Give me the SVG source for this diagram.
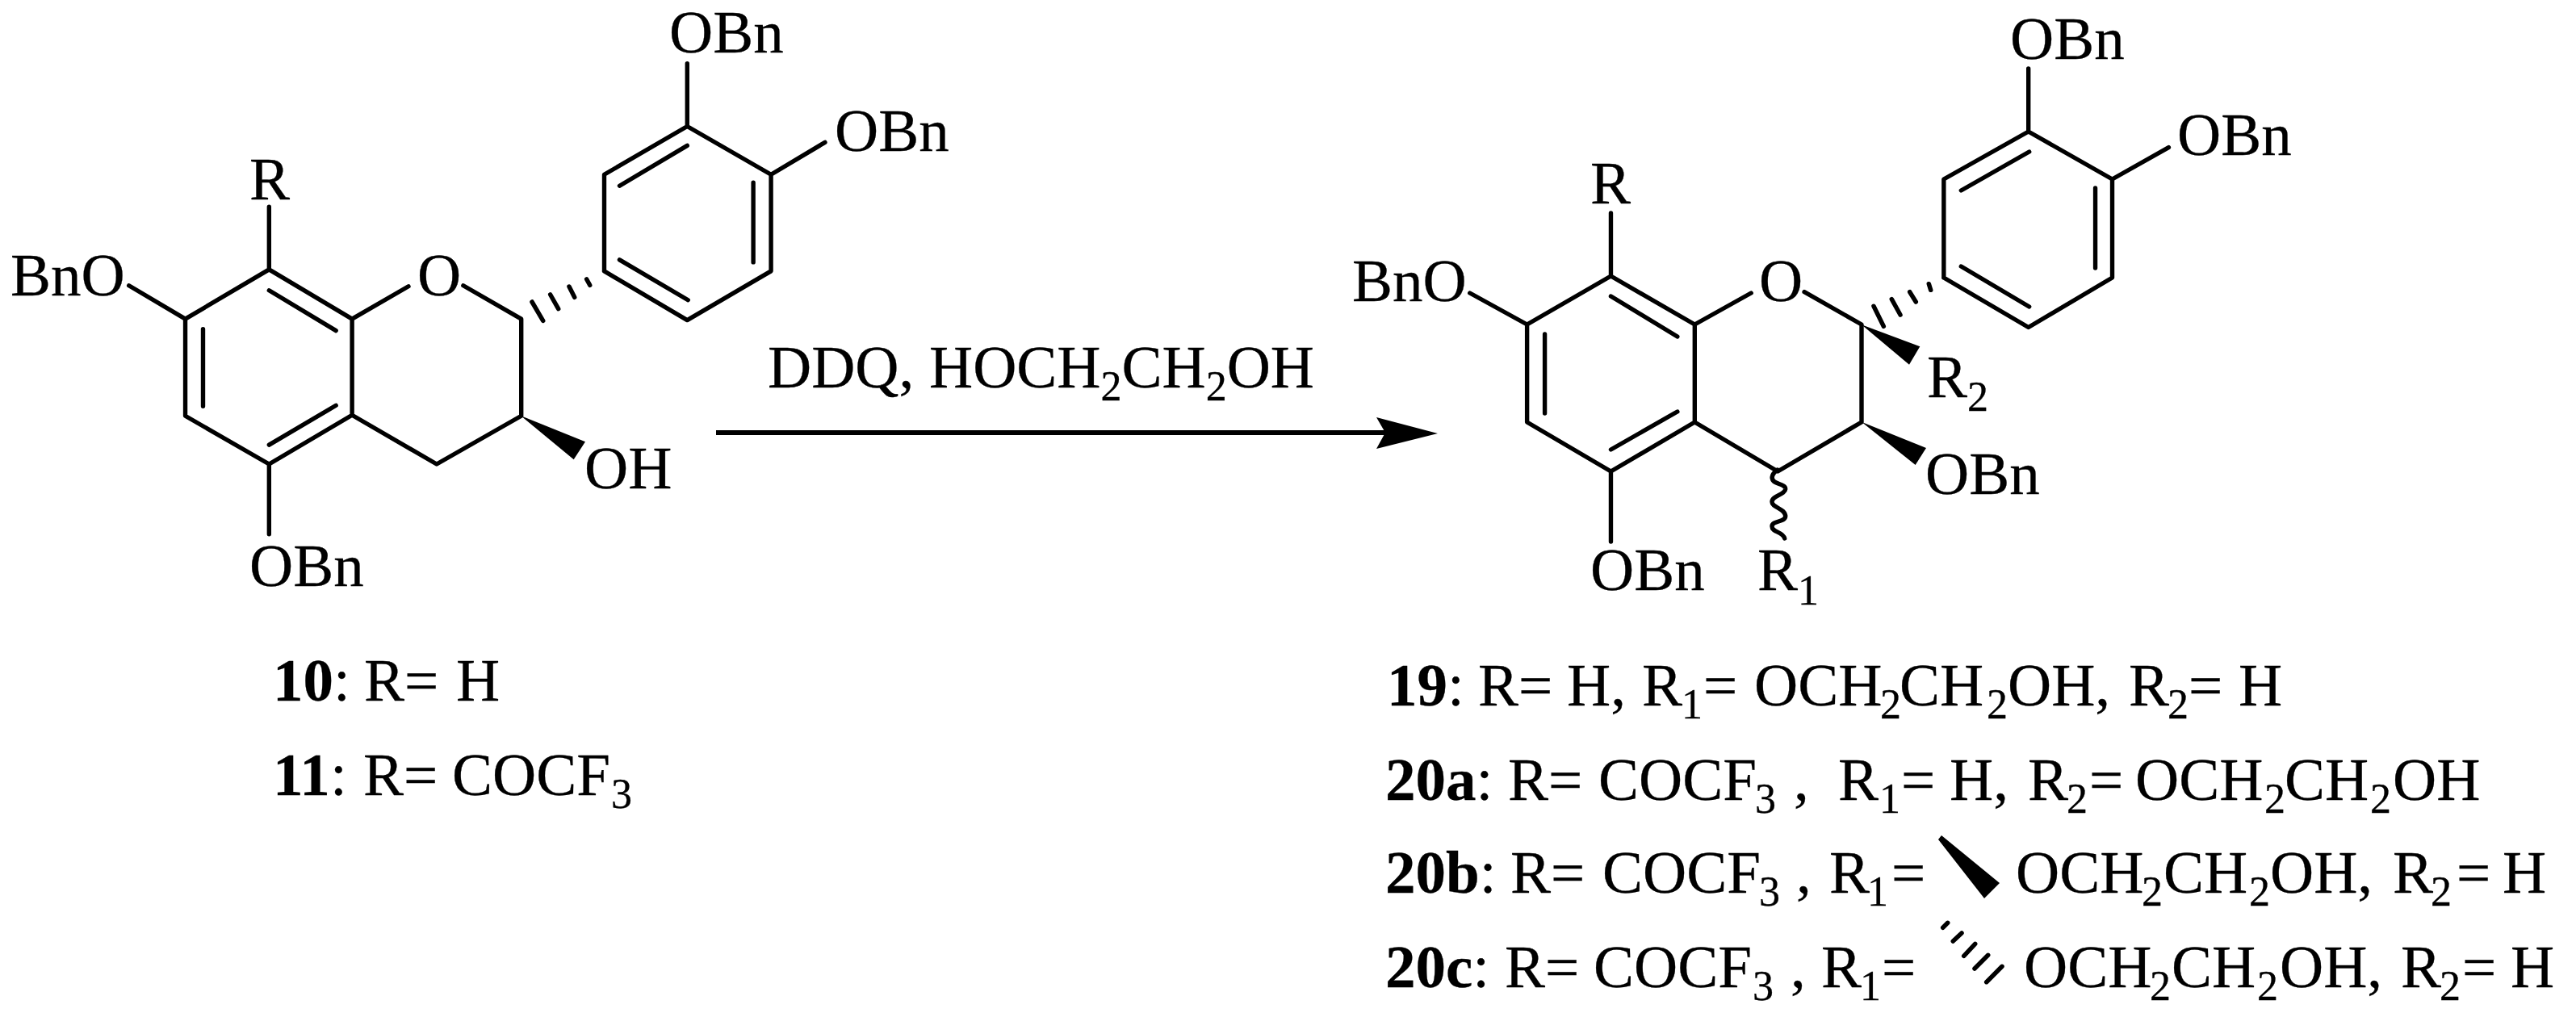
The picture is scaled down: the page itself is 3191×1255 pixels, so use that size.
<svg xmlns="http://www.w3.org/2000/svg" width="3191" height="1255" viewBox="0 0 3191 1255">
<style>
text{font-family:"Liberation Serif","Times New Roman",serif;font-size:75px;fill:#000;stroke:#000;stroke-width:.3;white-space:pre}
.s{font-size:52px}
.b{font-weight:bold}
.bond{stroke:#000;stroke-width:5.400;fill:none;stroke-linecap:round;stroke-linejoin:round}
.hash{stroke:#000;stroke-width:5.500;fill:none;stroke-linecap:round}
</style>
<rect width="3191" height="1255" fill="#fff"/>
<g id="compound-10">
<path class="bond" transform="scale(.998 .9966)" d="M334 257V335L230 396.500V517L334 577L437 516V396.500L334 335M437 516L542 577L647 517V396.500L575 355M437 396.500L507 356M160 355L230 396.500M334 577V664M334 361L417 411M252 409V505M334 553L417 504M750 337V217L853 157L957 217V337L853 398L750 337M853 157V79M957 217L1024 177M769 231L853 181M935 227V326M769 323L854 373"/>
<path d="M645 515L725 547.300L710.700 569.300Z"/>
<path class="hash" d="M659 374L672.700 397.300M681.700 365L691.700 382.700M705 355L711.700 368.300M726.700 346L730.700 353.300"/>
<text x="829" y="65">OBn</text><text x="1034" y="187">OBn</text><text x="309" y="247">R</text><text x="13" y="366">BnO</text><text x="517" y="366">O</text><text x="724" y="605">OH</text><text x="309" y="726">OBn</text>
</g>
<g id="connectors">
<path d="M887 536H1716" stroke="#000" stroke-width="6" fill="none"/>
<path d="M1781 537L1705 517L1716 536L1705 556Z"/>
</g>
<g id="reagents"><text x="951" y="480">DDQ, HOCH<tspan class="s" dy="16">2</tspan><tspan dy="-16">CH</tspan><tspan class="s" dy="16">2</tspan><tspan dy="-16">OH</tspan></text></g>
<g id="compound-19-20">
<path class="bond" transform="translate(1640 0) scale(.9985 1) translate(-1640 0)" d="M1996 264V342L1892 402V523L1996 584L2100 523V402L1996 342M2100 523L2203 584L2307 523V402L2236 361.700M2100 402L2170 363M1821 363L1892 402M1996 584V671M1996 367L2078.500 417M1914 414V512M1996 557L2078.500 510M2409 344V222L2514 163L2618 222V344L2514 405.500L2409 344M2514 163V85M2618 222L2688 182.600M2430.500 236L2515 188M2597 233V332M2430.500 330L2515 380"/>
<path class="bond" d="M2201.700 582C2196 586 2193 592 2197 596C2201 600 2212 600 2211.700 606C2211 613 2195 614 2195 621.700C2195 629 2212 630 2211.700 640C2211 647 2195 645 2195 652C2195 660 2208 658 2210.700 667"/>
<path d="M2306 522.700L2386 555L2372.700 576Z"/><path d="M2306 402.300L2378.300 429.300L2365 451.700Z"/>
<path class="hash" d="M2321 379.300L2333.300 404.300M2343.300 370.700L2354 390M2365.700 361.700L2373.300 374M2389.300 351.700L2391.700 359.300"/>
<text x="2490" y="73">OBn</text><text x="2697" y="192">OBn</text><text x="1970" y="252">R</text><text x="1675" y="373">BnO</text><text x="2179" y="373">O</text>
<text x="2387" y="492">R<tspan class="s" dy="17">2</tspan></text><text x="2385" y="612">OBn</text><text x="1970" y="731">OBn</text><text x="2177" y="731">R<tspan class="s" dy="18">1</tspan></text>
</g>
<g id="captions">
<text y="868"><tspan class="b" x="338">10</tspan>:<tspan x="451">R=</tspan><tspan x="565">H</tspan></text>
<text y="985"><tspan class="b" x="338">11</tspan>:<tspan x="450">R=</tspan><tspan x="560">COCF</tspan><tspan class="s" x="757" y="1001">3</tspan></text>
<text y="874"><tspan class="b" x="1718">19</tspan>:<tspan x="1831">R=</tspan><tspan x="1941">H,</tspan><tspan x="2034">R</tspan><tspan class="s" x="2083" y="890">1</tspan><tspan x="2110" y="874">=</tspan><tspan x="2173">OCH</tspan><tspan class="s" x="2329" y="890">2</tspan><tspan x="2353" y="874">CH</tspan><tspan class="s" x="2461" y="890">2</tspan><tspan x="2487" y="874">OH,</tspan><tspan x="2637">R</tspan><tspan class="s" x="2685" y="890">2</tspan><tspan x="2711" y="874">=</tspan><tspan x="2773">H</tspan></text>
<text y="991"><tspan class="b" x="1716">20a</tspan>:<tspan x="1868">R=</tspan><tspan x="1980">COCF</tspan><tspan class="s" x="2174" y="1007">3</tspan><tspan x="2222" y="991">,</tspan><tspan x="2277">R</tspan><tspan class="s" x="2328" y="1007">1</tspan><tspan x="2355" y="991">=</tspan><tspan x="2415">H,</tspan><tspan x="2512">R</tspan><tspan class="s" x="2560" y="1007">2</tspan><tspan x="2588" y="991">=</tspan><tspan x="2645">OCH</tspan><tspan class="s" x="2805" y="1007">2</tspan><tspan x="2830" y="991">CH</tspan><tspan class="s" x="2936" y="1007">2</tspan><tspan x="2964" y="991">OH</tspan></text>
<text y="1106"><tspan class="b" x="1716">20b</tspan>:<tspan x="1871">R=</tspan><tspan x="1985">COCF</tspan><tspan class="s" x="2179" y="1122">3</tspan><tspan x="2225" y="1106">,</tspan><tspan x="2266">R</tspan><tspan class="s" x="2313" y="1122">1</tspan><tspan x="2343" y="1106">=</tspan></text>
<path d="M2401 1040L2405 1035L2477 1094L2458 1113Z"/>
<text y="1106"><tspan x="2497">OCH</tspan><tspan class="s" x="2653" y="1122">2</tspan><tspan x="2680" y="1106">CH</tspan><tspan class="s" x="2786" y="1122">2</tspan><tspan x="2812" y="1106">OH,</tspan><tspan x="2964">R</tspan><tspan class="s" x="3011" y="1122">2</tspan><tspan x="3043" y="1106">=</tspan><tspan x="3100">H</tspan></text>
<text y="1223"><tspan class="b" x="1716">20c</tspan>:<tspan x="1864">R=</tspan><tspan x="1974">COCF</tspan><tspan class="s" x="2171" y="1239">3</tspan><tspan x="2218" y="1223">,</tspan><tspan x="2256">R</tspan><tspan class="s" x="2304" y="1239">1</tspan><tspan x="2331" y="1223">=</tspan></text>
<text y="1223"><tspan x="2507">OCH</tspan><tspan class="s" x="2663" y="1239">2</tspan><tspan x="2690" y="1223">CH</tspan><tspan class="s" x="2796" y="1239">2</tspan><tspan x="2824" y="1223">OH,</tspan><tspan x="2974">R</tspan><tspan class="s" x="3022" y="1239">2</tspan><tspan x="3050" y="1223">=</tspan><tspan x="3110">H</tspan></text>
<path class="hash" d="M2406.700 1149.300L2412.700 1143.300M2419.300 1166L2430 1156M2432.700 1184.300L2446.700 1169.300M2446 1200L2462.700 1183.300M2460.700 1216.700L2480 1197.300"/>
</g>
</svg>
